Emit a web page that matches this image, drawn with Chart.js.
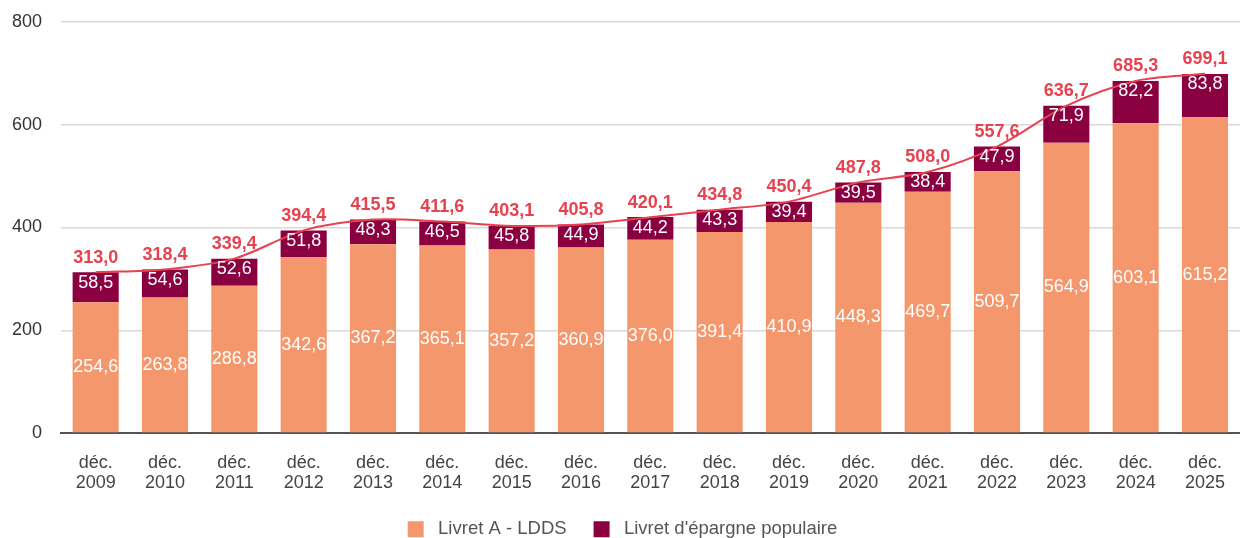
<!DOCTYPE html>
<html>
<head>
<meta charset="utf-8">
<script src="https://cdn.jsdelivr.net/npm/chart.js@4.4.1/dist/chart.umd.min.js"></script>
<style>
  html, body { margin: 0; padding: 0; background: #fff; overflow: hidden; }
  #wrap { width: 1245px; height: 538px; position: relative; }
</style>
</head>
<body>
<div id="wrap"><canvas id="c"></canvas></div>
<script>
const categories = ["2009","2010","2011","2012","2013","2014","2015","2016","2017","2018","2019","2020","2021","2022","2023","2024","2025"];
const livretA = [254.6,263.8,286.8,342.6,367.2,365.1,357.2,360.9,376.0,391.4,410.9,448.3,469.7,509.7,564.9,603.1,615.2];
const lep = [58.5,54.6,52.6,51.8,48.3,46.5,45.8,44.9,44.2,43.3,39.4,39.5,38.4,47.9,71.9,82.2,83.8];
const totals = [313.0,318.4,339.4,394.4,415.5,411.6,403.1,405.8,420.1,434.8,450.4,487.8,508.0,557.6,636.7,685.3,699.1];
const yTicks = [0,200,400,600,800];

const FONT = "'Liberation Sans', Arial, Helvetica, sans-serif";
const fmt = v => v.toFixed(1).replace('.', ',');

const labelPlugin = {
  id: 'labels',
  beforeLayout(chart) {
    const lg = chart.legend;
    if (lg && !lg._patched) {
      const orig = lg.fit.bind(lg);
      lg.fit = function () { orig(); this.height = 45; };
      lg._patched = true;
    }
  },
  afterDatasetsDraw(chart) {
    const ctx = chart.ctx;
    ctx.save();
    ctx.textAlign = 'center';
    ctx.textBaseline = 'middle';
    ctx.font = "18px " + FONT;
    ctx.fillStyle = '#ffffff';
    chart.getDatasetMeta(0).data.forEach((el, i) => {
      ctx.fillText(fmt(livretA[i]), el.x, (el.y + el.base) / 2);
    });
    chart.getDatasetMeta(1).data.forEach((el, i) => {
      ctx.fillText(fmt(lep[i]), el.x, el.y + 10.5);
    });
    ctx.font = "bold 18px " + FONT;
    ctx.fillStyle = '#e8414f';
    chart.getDatasetMeta(2).data.forEach((el, i) => {
      ctx.fillText(fmt(totals[i]), el.x, el.y - 14.5);
    });
    ctx.restore();
  }
};

new Chart(document.getElementById('c'), {
  data: {
    labels: categories.map(y => ["déc.", y]),
    datasets: [
      { type: 'bar', label: 'Livret A - LDDS', data: livretA, backgroundColor: '#f5976c', stack: 's', barPercentage: 0.665, categoryPercentage: 1.0, order: 1 },
      { type: 'bar', label: "Livret d'épargne populaire", data: lep, backgroundColor: '#8a0040', stack: 's', barPercentage: 0.665, categoryPercentage: 1.0, order: 1 },
      { type: 'line', label: 'Total', data: totals, borderColor: '#e8414f', borderWidth: 2, pointRadius: 0, tension: 0.3, fill: false, order: 0 }
    ]
  },
  options: {
    responsive: true,
    maintainAspectRatio: false,
    animation: false,
    layout: { padding: { top: 22, right: 0, left: 0, bottom: 0 } },
    plugins: {
      tooltip: { enabled: false },
      legend: {
        position: 'bottom',
        labels: {
          filter: item => item.datasetIndex < 2,
          generateLabels: chart => {
            const items = Chart.defaults.plugins.legend.labels.generateLabels(chart);
            items.forEach(it => { it.text = ' ' + it.text; it.lineWidth = 0; });
            return items;
          },
          boxWidth: 16, boxHeight: 16, padding: 27,
          color: '#555', font: { family: FONT, size: 18.5 }
        }
      }
    },
    scales: {
      x: {
        stacked: true,
        afterFit: s => { s.height = 60; },
        grid: { display: false, drawTicks: false },
        border: { display: true, color: '#555', width: 2 },
        ticks: { color: '#444', font: { family: FONT, size: 18, lineHeight: 1.1 }, padding: 20, maxRotation: 0, autoSkip: false }
      },
      y: {
        stacked: true,
        min: 0, max: 800,
        afterBuildTicks: s => { s.ticks = yTicks.map(v => ({ value: v })); },
        afterFit: s => { s.width = 61; s.paddingTop = 0; s.paddingBottom = 0; },
        grid: { color: '#d9d9d9', lineWidth: 1.5, drawTicks: false },
        border: { display: false },
        ticks: { color: '#333', font: { family: FONT, size: 18 }, padding: 19 }
      }
    }
  },
  plugins: [labelPlugin]
});
</script>
</body>
</html>
